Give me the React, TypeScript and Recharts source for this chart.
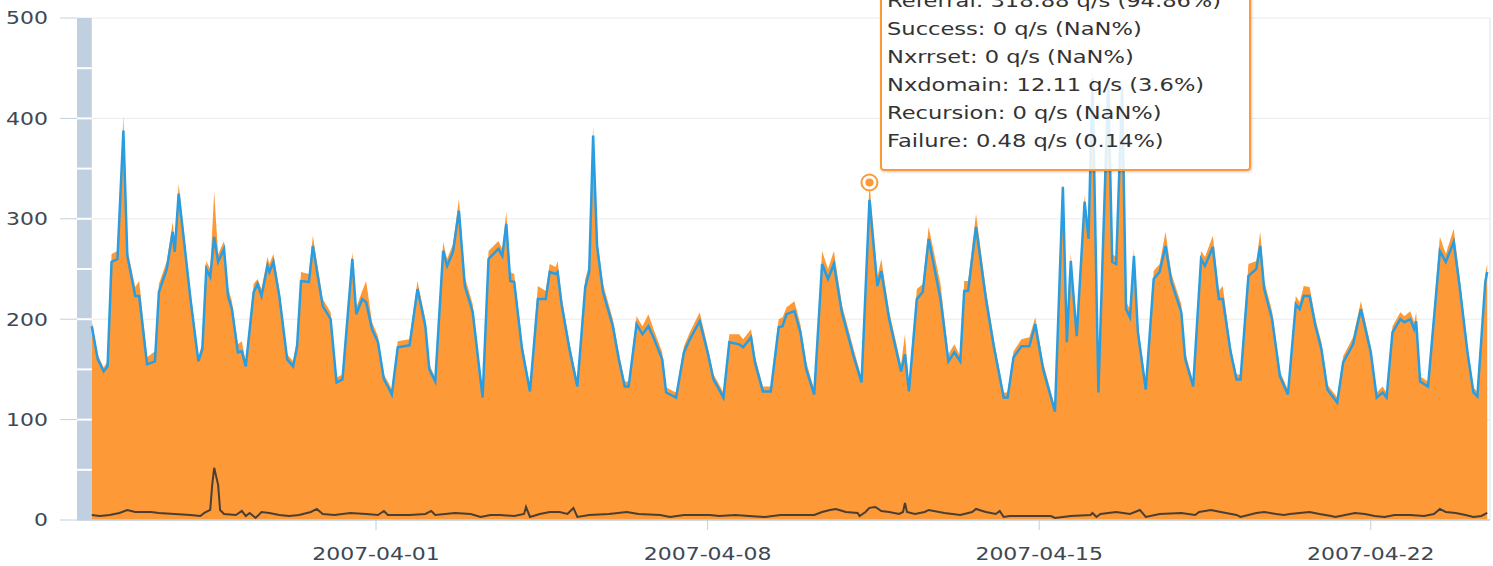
import React from "react";
import {
  ComposedChart,
  Area,
  Line,
  XAxis,
  YAxis,
  CartesianGrid,
  ReferenceArea,
  ReferenceLine,
  ReferenceDot,
} from "recharts";

// hours since 2007-03-26 00:00 UTC
const START = Date.UTC(2007, 2, 26);

const hours = [
  0, 3, 6, 8, 10, 13, 16, 18, 22, 24, 28, 32, 34, 38, 41, 42, 44, 47, 50, 54, 56, 58, 60, 62, 64, 67, 69, 71, 74, 76,
  78, 82, 84, 86, 89, 90, 92, 95, 99, 102, 104, 106, 110, 112, 117, 121, 124, 127, 132, 134, 137, 139, 142, 145, 148,
  150, 152, 155, 161, 165, 169, 171, 174, 178, 180, 183, 186, 189, 193, 195, 198, 201, 206, 208, 210, 212, 214, 218,
  222, 226, 230, 232, 235, 236, 238, 242, 246, 250, 252, 254, 256, 259, 264, 267, 270, 272, 276, 279, 282, 285, 289,
  291, 296, 300, 303, 308, 312, 315, 317, 320, 323, 328, 330, 334, 336, 340, 344, 348, 350, 352, 356, 359, 362, 366,
  370, 373, 376, 380, 386, 390, 394, 398, 400, 404, 410, 412, 414, 418, 421, 424, 430, 434, 437, 440, 442, 444, 448,
  453, 457, 462, 464, 467, 471, 475, 478, 482, 488, 492, 494, 496, 499, 503, 505, 507, 510, 512, 515, 517, 519, 522,
  524, 526, 528, 530, 534, 538, 541, 544, 547, 552, 554, 558, 562, 564, 568, 571, 573, 577, 580, 582, 586, 590, 592,
  594, 598, 602, 606, 610, 612, 614, 617, 620, 623, 626, 631, 634, 639, 643, 648, 651, 654, 656, 659, 663, 665, 668,
  670, 671, 673, 677, 683, 686, 690, 693, 697, 700, 702, 706, 707,
];

const referral = [
  193, 160, 148, 153, 257, 260, 388, 263, 223, 223, 155, 158, 227, 250, 287, 267, 325, 273, 220, 158, 170, 250, 242, 282,
  257, 270, 223, 210, 167, 168, 153, 227, 235, 223, 253, 247, 257, 223, 160, 153, 173, 238, 237, 273, 213, 200, 137, 140,
  260, 205, 220, 217, 190, 177, 140, 133, 125, 172, 174, 230, 193, 150, 138, 268, 253, 267, 308, 233, 207, 173, 122, 260,
  270, 263, 295, 238, 237, 170, 128, 220, 220, 247, 245, 247, 215, 170, 133, 232, 247, 383, 273, 227, 193, 160, 133, 133,
  195, 185, 193, 180, 160, 127, 122, 167, 180, 198, 167, 140, 133, 122, 177, 175, 172, 182, 157, 128, 128, 192, 193, 205,
  208, 187, 150, 125, 255, 240, 255, 207, 163, 137, 318.88, 233, 248, 200, 148, 165, 128, 220, 227, 280, 220, 158, 167,
  158, 228, 228, 292, 220, 173, 122, 122, 162, 173, 173, 195, 150, 108, 332, 177, 258, 183, 317, 280, 440, 127, 253, 435,
  257, 255, 430, 210, 202, 263, 187, 130, 240, 247, 273, 237, 207, 160, 133, 260, 253, 272, 220, 220, 167, 140, 140, 243,
  250, 273, 230, 200, 143, 125, 215, 210, 223, 223, 193, 170, 130, 117, 157, 175, 210, 167, 122, 127, 122, 187, 200, 197,
  200, 190, 198, 138, 133, 268, 257, 277, 233, 167, 127, 123, 237, 247,
];

const total = [
  198, 165, 152, 158, 265, 268, 403, 270, 232, 238, 162, 168, 235, 258, 297, 275, 335, 280, 228, 163, 176, 258, 250, 327,
  265, 278, 232, 218, 175, 178, 158, 235, 240, 230, 262, 255, 265, 230, 165, 158, 180, 247, 245, 283, 220, 207, 142, 145,
  267, 212, 228, 238, 197, 183, 145, 138, 130, 178, 180, 238, 200, 155, 142, 277, 260, 275, 320, 242, 215, 180, 127, 268,
  278, 270, 307, 247, 245, 177, 133, 233, 228, 255, 252, 258, 222, 177, 138, 240, 255, 393, 280, 235, 200, 167, 138, 138,
  203, 193, 205, 188, 167, 132, 127, 173, 187, 207, 173, 145, 138, 127, 185, 185, 180, 190, 163, 133, 133, 200, 202, 212,
  218, 195, 157, 130, 268, 250, 268, 215, 170, 142, 336.16, 242, 260, 208, 155, 185, 133, 230, 235, 292, 235, 165, 175,
  163, 238, 238, 305, 230, 180, 127, 127, 168, 180, 182, 202, 157, 112, 335, 183, 265, 190, 323, 288, 448, 133, 262, 445,
  265, 262, 440, 218, 210, 270, 195, 135, 248, 255, 287, 245, 215, 167, 138, 268, 262, 283, 228, 233, 173, 145, 145, 255,
  258, 287, 238, 208, 148, 130, 223, 217, 233, 232, 200, 177, 135, 122, 163, 182, 218, 173, 127, 133, 127, 193, 207, 203,
  208, 197, 207, 143, 138, 282, 265, 290, 242, 173, 132, 128, 245, 255,
];

const nxHours = [
  0, 4, 9, 14, 18, 22, 30, 34, 42, 50, 55, 57, 60, 61, 62, 64, 65, 67, 73, 76, 78, 80, 83, 86, 90, 95, 100, 105, 111,
  114, 117, 123, 131, 139, 145, 148, 150, 161, 169, 172, 174, 184, 192, 197, 202, 207, 214, 219, 220, 222, 227, 232, 237,
  241, 244, 246, 252, 262, 271, 277, 288, 293, 300, 308, 313, 318, 326, 333, 341, 349, 359, 366, 370, 374, 377, 382,
  388, 389, 392, 394, 397, 400, 404, 409, 411, 412, 413, 417, 422, 424, 432, 440, 446, 448, 453, 458, 460, 462, 465,
  475, 486, 488, 496, 506, 507, 509, 511, 519, 526, 531, 534, 541, 552, 559, 561, 567, 572, 580, 582, 590, 594, 600,
  604, 607, 612, 617, 622, 628, 630, 635, 640, 645, 650, 655, 660, 668, 675, 680, 683, 686, 691, 696, 700, 704, 707,
];

const nxdomain = [
  5, 4, 5, 7, 10, 8, 8, 7, 6, 5, 4, 7, 10, 35, 52, 35, 10, 6, 5, 9, 4, 7, 2, 8, 7, 5, 4, 5, 8, 11, 6, 5, 7, 6, 5, 9, 5,
  5, 6, 9, 5, 7, 6, 3, 5, 5, 4, 6, 13, 3, 6, 8, 8, 6, 12, 3, 5, 6, 8, 6, 5, 3, 5, 5, 5, 4, 5, 4, 3, 5, 5, 5, 8, 10, 11,
  8, 7, 4, 8, 12.11, 13, 9, 8, 6, 8, 17, 8, 6, 8, 10, 7, 5, 8, 11, 8, 6, 9, 3, 4, 4, 4, 2, 4, 5, 7, 3, 6, 8, 6, 10, 3,
  6, 7, 5, 8, 10, 8, 5, 3, 7, 8, 6, 5, 6, 7, 8, 6, 4, 3, 5, 7, 6, 4, 3, 5, 5, 4, 6, 11, 8, 7, 5, 3, 4, 7,
];

const yTicks = [0, 100, 200, 300, 400, 500];
const xTicks = [144, 312, 480, 648];
const bandLines = [50, 100, 150, 200, 250, 300, 350, 400, 450];

const hoverHour = 394;
const tooltipLines = [
  "Referral: 318.88 q/s (94.86%)",
  "Success: 0 q/s (NaN%)",
  "Nxrrset: 0 q/s (NaN%)",
  "Nxdomain: 12.11 q/s (3.6%)",
  "Recursion: 0 q/s (NaN%)",
  "Failure: 0.48 q/s (0.14%)",
];

const ORANGE = "#fd9a37";
const BLUE = "#2a9de0";
const DARK = "#353535";
const AXIS = "#c0d0e0";
const FONT = "'DejaVu Sans', Verdana, sans-serif";
const STRETCH = 1.22;

const rows = hours.map((h, i) => ({ h, referral: referral[i], total: total[i] }));
const nxRows = nxHours.map((h, i) => ({ h, v: nxdomain[i] }));
const hoverIdx = hours.indexOf(hoverHour);

const fmtDate = (h: number) => new Date(START + h * 3600e3).toISOString().slice(0, 10);

const YTick = ({ y, payload }: any) => (
  <g transform={`translate(48,${y})`}>
    <text textAnchor="end" dy="0.36em" transform={`scale(${STRETCH},1)`} fontSize={18} fontFamily={FONT} fill="#3e4852">
      {payload.value}
    </text>
  </g>
);

const XTick = ({ x, payload }: any) => (
  <g transform={`translate(${x},554)`}>
    <text textAnchor="middle" dy="0.36em" transform={`scale(${STRETCH},1)`} fontSize={18} fontFamily={FONT} fill="#3e4852">
      {fmtDate(payload.value)}
    </text>
  </g>
);

export default function App() {
  return (
    <div style={{ position: "absolute", left: 0, top: 0, width: 1493, height: 566, background: "#fff", overflow: "hidden" }}>
      <ComposedChart width={1493} height={566} data={rows} margin={{ top: 18, right: 3, bottom: 0, left: 0 }}>
        <CartesianGrid vertical={false} stroke="#ebebeb" />
        <XAxis
          dataKey="h"
          type="number"
          domain={[-7.5, 708.4]}
          allowDataOverflow
          ticks={xTicks}
          tick={<XTick />}
          tickSize={10}
          height={46}
          axisLine={{ stroke: AXIS, strokeWidth: 1.5 }}
          tickLine={{ stroke: AXIS }}
        />
        <YAxis
          domain={[0, 500]}
          ticks={yTicks}
          width={77}
          tickSize={17}
          axisLine={false}
          tickLine={{ stroke: AXIS }}
          tick={<YTick />}
        />
        <ReferenceArea x1={-7.5} x2={0} y1={0} y2={500} fill={AXIS} fillOpacity={1} stroke="none" />
        {bandLines.map((v) => (
          <ReferenceLine key={v} segment={[{ x: -7.5, y: v }, { x: 0, y: v }]} stroke="#fff" strokeWidth={2} />
        ))}
        <ReferenceLine x={708.4} stroke="#e2e2e2" />
        <Area type="linear" dataKey="total" fill={ORANGE} fillOpacity={1} stroke="none" isAnimationActive={false} />
        <Line type="linear" dataKey="referral" stroke={BLUE} strokeWidth={2.5} dot={false} isAnimationActive={false} />
        <Line
          type="linear"
          data={nxRows}
          dataKey="v"
          stroke={DARK}
          strokeOpacity={0.9}
          strokeWidth={2}
          dot={false}
          isAnimationActive={false}
        />
        <ReferenceDot x={hours[hoverIdx]} y={total[hoverIdx]} r={8} fill="#fff" fillOpacity={0.8} stroke={ORANGE} strokeWidth={2} />
        <ReferenceDot x={hours[hoverIdx]} y={total[hoverIdx]} r={4} fill={ORANGE} stroke="none" />
      </ComposedChart>
      <div
        style={{
          position: "absolute",
          left: 880,
          top: -23,
          width: 371,
          height: 194,
          boxSizing: "border-box",
          border: `2px solid ${ORANGE}`,
          borderRadius: 4,
          background: "rgba(255,255,255,0.86)",
          boxShadow: "1px 1px 3px rgba(0,0,0,0.2)",
          padding: "8px 6px 14px 5px",
          overflow: "hidden",
        }}
      >
        <div
          style={{
            transform: `scaleX(${STRETCH})`,
            transformOrigin: "left top",
            fontFamily: FONT,
            fontSize: 18.5,
            lineHeight: "28px",
            color: "#333",
            whiteSpace: "nowrap",
          }}
        >
          {tooltipLines.map((t) => (
            <div key={t}>{t}</div>
          ))}
        </div>
      </div>
    </div>
  );
}
